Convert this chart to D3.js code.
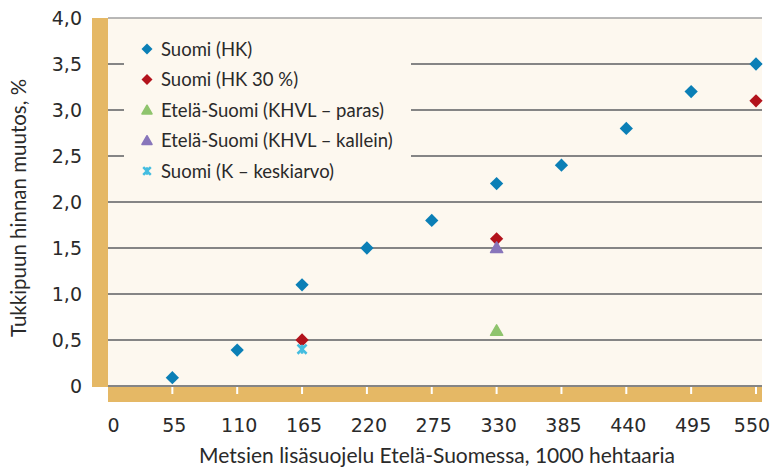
<!DOCTYPE html>
<html>
<head>
<meta charset="utf-8">
<script src="https://cdn.jsdelivr.net/npm/d3@7"></script>
<style>
  body { margin: 0; background: #fff; }
  text { font-family: Lato, "Open Sans", sans-serif; fill: #2a2a2a; }
  text.num { font-family: "DejaVu Sans", sans-serif; }
</style>
</head>
<body>
<div id="chart"></div>
<script>
// data
var xTicks = [55, 110, 165, 220, 275, 330, 385, 440, 495, 550];
var xLabels = [0, 55, 110, 165, 220, 275, 330, 385, 440, 495, 550];
var yTicks = [0, 0.5, 1, 1.5, 2, 2.5, 3, 3.5, 4];

var hkX = [55, 110, 165, 220, 275, 330, 385, 440, 495, 550];
var hkY = [0.09, 0.39, 1.1, 1.5, 1.8, 2.2, 2.4, 2.8, 3.2, 3.5];
var hk30X = [165, 330, 550];
var hk30Y = [0.5, 1.6, 3.1];
var parasX = [330];
var parasY = [0.6];
var kalleinX = [330];
var kalleinY = [1.5];
var keskiX = [165];
var keskiY = [0.4];

var seriesNames = ["Suomi (HK)", "Suomi (HK 30 %)", "Etelä-Suomi (KHVL – paras)",
                   "Etelä-Suomi (KHVL – kallein)", "Suomi (K – keskiarvo)"];

var width = 772, height = 468;
var plotLeft = 108, plotRight = 762, plotTop = 18, plotBottom = 386;

var gold = "#e5b865", cream = "#fdf8ef";

var series = [
  {name: seriesNames[0], xs: hkX, ys: hkY, color: "#0b7fb6", shape: "diamond"},
  {name: seriesNames[1], xs: hk30X, ys: hk30Y, color: "#b3131c", shape: "diamond"},
  {name: seriesNames[2], xs: parasX, ys: parasY, color: "#8fc46d", shape: "triangle"},
  {name: seriesNames[3], xs: kalleinX, ys: kalleinY, color: "#8876bb", shape: "triangle"},
  {name: seriesNames[4], xs: keskiX, ys: keskiY, color: "#44bde0", shape: "star"}
];

var x = d3.scaleLinear().domain([0, 550]).range([107.5, 756]);
var y = d3.scaleLinear().domain([0, 4]).range([plotBottom, plotTop]);

var svg = d3.select("#chart").append("svg")
    .attr("width", width)
    .attr("height", height);

// plot background
svg.append("rect")
    .attr("x", plotLeft).attr("y", plotTop)
    .attr("width", plotRight - plotLeft).attr("height", plotBottom - plotTop)
    .attr("fill", cream);

// gold bands
svg.append("rect")
    .attr("x", 92).attr("y", plotTop)
    .attr("width", plotLeft - 92).attr("height", plotBottom - plotTop + 1)
    .attr("fill", gold);
svg.append("rect")
    .attr("x", plotLeft).attr("y", plotBottom + 1)
    .attr("width", plotRight - plotLeft).attr("height", 15)
    .attr("fill", gold);

// gridlines
svg.selectAll(".grid")
    .data(yTicks)
    .enter().append("line")
    .attr("class", "grid")
    .attr("x1", plotLeft).attr("x2", plotRight)
    .attr("y1", function(d) { return y(d); })
    .attr("y2", function(d) { return y(d); })
    .attr("stroke", function(d) { return d == 4 ? "#a0a0a0" : "#858585"; })
    .attr("stroke-width", function(d) { return d == 4 ? 1.5 : 2; });

// x ticks (white, in the gold band)
svg.selectAll(".xtick")
    .data(xTicks)
    .enter().append("line")
    .attr("x1", function(d) { return x(d); })
    .attr("x2", function(d) { return x(d); })
    .attr("y1", plotBottom + 1).attr("y2", plotBottom + 8)
    .attr("stroke", "#fff")
    .attr("stroke-width", 2);

// x labels
svg.selectAll(".xlab")
    .data(xLabels)
    .enter().append("text")
    .attr("class", "num")
    .attr("x", function(d) { return d == 0 ? x(d) + 6 : Math.min(x(d) + 2, 752); })
    .attr("y", 432)
    .attr("text-anchor", "middle")
    .style("font-size", "19px")
    .text(function(d) { return d; });

// y labels
svg.selectAll(".ylab")
    .data(yTicks)
    .enter().append("text")
    .attr("class", "num")
    .attr("x", 82)
    .attr("y", function(d) { return y(d) + 7; })
    .attr("text-anchor", "end")
    .style("font-size", "19px")
    .text(function(d) { return d == 0 ? "0" : d3.format(".1f")(d).replace(".", ","); });

// axis titles
svg.append("text")
    .attr("x", 437).attr("y", 463)
    .attr("text-anchor", "middle")
    .style("font-size", "21px")
    .text("Metsien lisäsuojelu Etelä-Suomessa, 1000 hehtaaria");

svg.append("text")
    .attr("transform", "translate(26,208) rotate(-90)")
    .attr("text-anchor", "middle")
    .style("font-size", "20.5px")
    .text("Tukkipuun hinnan muutos, %");

// legend box (covers gridlines)
svg.append("rect")
    .attr("x", 124).attr("y", plotTop + 2)
    .attr("width", 411 - 124).attr("height", 186 - plotTop)
    .attr("fill", cream);

function marker(g, shape, color, size) {
  if (shape == "diamond") {
    g.append("path")
      .attr("d", d3.symbol().type(d3.symbolSquare).size(size * 0.55)())
      .attr("transform", "rotate(45)")
      .attr("fill", color);
  } else if (shape == "triangle") {
    g.append("path")
      .attr("d", d3.symbol().type(d3.symbolTriangle).size(size * 0.4)())
      .attr("transform", "translate(0,1)")
      .attr("fill", color)
      .attr("stroke", color)
      .attr("stroke-width", 1.5)
      .attr("stroke-linejoin", "round");
  } else {
    var r = Math.sqrt(size) * 0.36;
    g.append("path")
      .attr("d", "M" + (-r) + "," + (-r) + "L" + r + "," + r + "M" + r + "," + (-r) + "L" + (-r) + "," + r + "M0," + (-r) + "L0," + r)
      .attr("stroke", color)
      .attr("stroke-width", 2.5)
      .attr("fill", "none");
  }
}

// legend
series.forEach(function(s, i) {
  var ly = 49 + i * 30.5;
  var g = svg.append("g").attr("transform", "translate(147," + ly + ")");
  marker(g, s.shape, s.color, 110);
  svg.append("text")
      .attr("x", 161).attr("y", ly + 6.5)
      .style("font-size", "18.5px")
      .text(s.name);
});

// points
series.forEach(function(s) {
  s.xs.forEach(function(xv, j) {
    var g = svg.append("g")
        .attr("transform", "translate(" + x(xv) + "," + y(s.ys[j]) + ")");
    marker(g, s.shape, s.color, 160);
  });
});
</script>
</body>
</html>
